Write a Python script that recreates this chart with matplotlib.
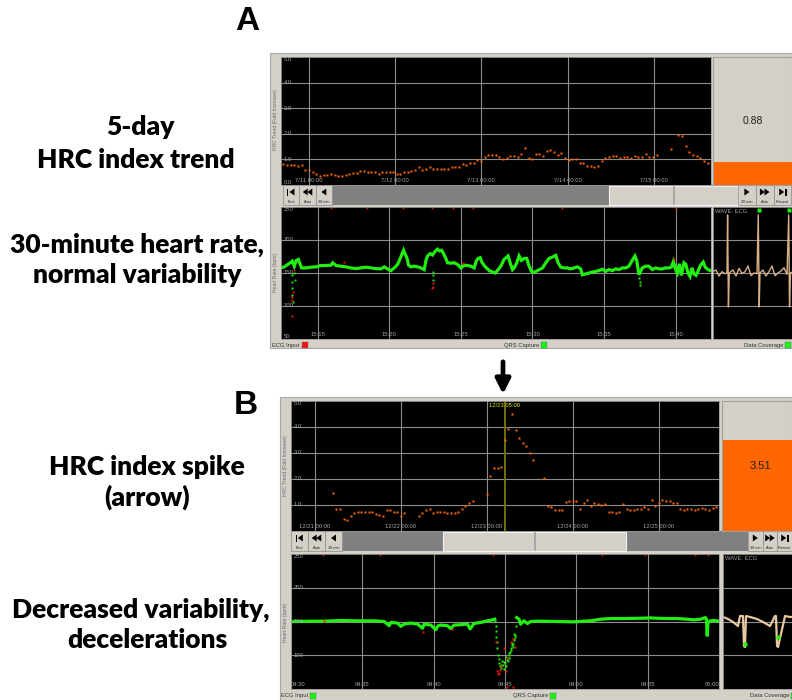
import numpy as np
import pandas as pd
import matplotlib
matplotlib.use('Agg')
import matplotlib.pyplot as plt
import matplotlib.dates as mdates
import matplotlib.transforms as mtransforms
from matplotlib.patches import Rectangle, Polygon

plt.rcParams['font.family'] = ['Liberation Sans', 'DejaVu Sans']

# ======================= DATA =======================
# --- Panel A: 5-day HRC index trend (fold increase) ---
trendA_start = '2009-07-10 17:00'
trendA_step = '61min'
trendA_values = [
    0.83, 0.77, 0.77, 0.77, 0.75, 0.79, 0.60, 0.58, 0.51, 0.42,
    0.35, 0.39, 0.40, 0.43, 0.39, 0.35, 0.36, 0.39, 0.43, 0.48,
    0.47, 0.53, 0.53, 0.51, 0.49, 0.49, 0.44, 0.52, 0.51, 0.52,
    0.49, 0.44, 0.44, 0.49, 0.51, 0.53, 0.60, 0.71, 0.58, 0.61,
    0.69, 0.64, 0.64, 0.64, 0.64, 0.64, 0.69, 0.69, 0.69, 0.81,
    0.77, 0.84, 0.86, 0.96, 0.92, 1.08, 1.18, 1.18, 1.18, 1.09,
    1.00, 1.06, 1.13, 1.13, 1.08, 1.21, 1.43, 1.05, 1.00, 1.22,
    1.21, 1.13, 1.34, 1.35, 1.30, 1.16, 1.26, 1.04, 0.99, 1.01,
    1.03, 0.84, 0.84, 0.74, 0.73, 0.71, 0.74, 0.94, 1.04, 1.08,
    1.12, 1.12, 1.05, 1.08, 1.08, 1.06, 1.13, 1.10, 1.10, 1.23,
    1.10, 1.10, 1.16, np.nan, np.nan, np.nan, 1.42, np.nan, 1.97, 1.90,
    1.52, 1.29, 1.19, 1.13, 1.06, 0.94, 0.87]
trendA_current = 0.88
trendA_day_ticks = ['2009-07-11', '2009-07-12', '2009-07-13', '2009-07-14', '2009-07-15']
trendA_day_labels = ['7/11 00:00', '7/12 00:00', '7/13 00:00', '7/14 00:00', '7/15 00:00']

# --- Panel B: HRC index trend with spike ---
trendB_start = '2009-12-21 05:00'
trendB_step = '60min'
trendB_values = [
    1.45, 0.85, 0.85, 0.45, 0.44, 0.57, 0.71, 0.73, 0.73, 0.75,
    0.75, 0.75, 0.64, 0.62, 0.59, 0.82, 0.82, 0.73, 0.73, 0.59,
    0.68, np.nan, np.nan, np.nan, 0.57, 0.71, 0.81, 0.85, 0.71, 0.73,
    0.73, 0.73, 0.68, 0.68, 0.71, 0.72, 0.86, 0.97, 1.06, 1.15,
    np.nan, np.nan, np.nan, 1.43, 2.11, 2.42, 2.43, 2.47, 3.51, 3.94,
    4.50, 3.90, 3.58, 3.40, 3.27, 3.00, 2.73, np.nan, np.nan, 2.05,
    0.95, 0.93, 0.80, 0.80, 0.79, 1.11, 1.15, 1.17, 1.15, 0.84,
    1.07, 1.18, 0.95, 1.07, 1.03, 0.99, 1.02, 0.75, 0.75, 0.69,
    0.75, 1.02, 0.84, 0.82, 0.82, 0.85, 0.85, 0.94, 0.85, 1.18,
    0.98, 1.08, 1.21, 1.15, 1.15, 1.07, 1.07, 0.86, 0.82, 0.84,
    0.84, 0.82, 0.84, 0.90, 0.86, 0.82, 0.88, 0.91]
trendB_current = 3.51
trendB_cursor = '2009-12-23 05:00'
trendB_cursor_label = '12/23 05:00'
trendB_day_ticks = ['2009-12-21', '2009-12-22', '2009-12-23', '2009-12-24', '2009-12-25']
trendB_day_labels = ['12/21 00:00', '12/22 00:00', '12/23 00:00', '12/24 00:00', '12/25 00:00']

trend_y_ticks = [0, 1, 2, 3, 4, 5]
trend_y_labels = ['0.0', '1.0', '2.0', '3.0', '4.0', '5.0']
hr_y_ticks = [50, 100, 150, 200, 250]
hr_y_labels = ['50', '100', '150', '200', '250']

# --- Panel A: 30-minute heart rate (minutes after 15:00, bpm) ---
hrA_min = [12.44, 12.67, 12.91, 13.09, 13.23, 13.37, 13.51, 13.65, 13.79, 13.88,
           14.19, 14.54, 14.88, 15.23, 15.58, 15.93, 16.05, 16.28, 16.63, 16.98,
           17.33, 17.67, 18.02, 18.37, 18.72, 19.07, 19.42, 19.65, 19.88, 20.12,
           20.35, 20.58, 20.81, 21.00, 21.12, 21.23, 21.35, 21.51, 21.74, 21.98,
           22.21, 22.44, 22.58, 22.67, 22.86, 23.02, 23.19, 23.37, 23.51, 23.65,
           23.79, 23.93, 24.07, 24.30, 24.54, 24.77, 25.00, 25.23, 25.47, 25.70,
           25.93, 26.07, 26.21, 26.35, 26.49, 26.67, 26.98, 27.21, 27.40, 27.61,
           27.79, 28.02, 28.30, 28.44, 28.61, 28.72, 28.91, 29.07, 29.23, 29.42,
           29.60, 29.77, 29.93, 30.12, 30.35, 30.70, 30.93, 31.16, 31.40, 31.63,
           31.79, 31.98, 32.21, 32.44, 32.67, 32.91, 33.14, 33.37, 33.49, 33.72,
           33.95, 34.19, 34.42, 34.65, 34.88, 35.12, 35.35, 35.58, 35.81, 36.05,
           36.28, 36.51, 36.74, 36.91, 37.05, 37.16, 37.28, 37.44, 37.56, 37.67,
           37.91, 38.14, 38.37, 38.61, 38.84, 39.07, 39.30, 39.54, 39.70, 39.84,
           40.00, 40.12, 40.26, 40.40, 40.58, 40.72, 40.86, 41.00, 41.14, 41.28,
           41.42, 41.56, 41.74, 41.93, 42.07, 42.26, 42.44]
hrA_bpm = [157.7, 159.3, 162.9, 165.5, 168.0, 160.3, 169.1, 170.6, 162.9, 157.7,
           157.7, 158.8, 159.3, 161.3, 161.3, 161.8, 165.5, 161.3, 160.3, 159.3,
           157.7, 156.7, 157.7, 158.8, 157.7, 156.7, 156.2, 159.3, 156.2, 153.6,
           157.7, 162.9, 174.2, 184.5, 178.3, 173.2, 161.8, 159.3, 160.3, 159.3,
           157.7, 155.2, 170.6, 175.8, 179.4, 177.3, 182.4, 186.1, 183.5, 184.5,
           179.4, 173.2, 165.5, 164.9, 165.5, 162.9, 157.7, 161.8, 161.3, 160.3,
           157.7, 168.0, 172.1, 173.2, 165.5, 160.3, 153.6, 151.5, 150.0, 155.2,
           160.3, 170.6, 175.8, 165.5, 155.2, 157.7, 165.5, 175.8, 169.1, 172.1,
           172.1, 160.3, 152.6, 151.0, 153.6, 157.7, 165.5, 172.1, 174.2, 176.8,
           165.5, 158.8, 157.7, 157.7, 156.2, 157.7, 159.3, 156.2, 147.4, 148.5,
           150.0, 151.5, 152.6, 153.6, 155.7, 152.6, 155.2, 153.6, 156.2, 155.2,
           157.7, 157.7, 160.3, 167.0, 172.1, 175.8, 169.1, 147.4, 152.6, 157.7,
           160.3, 160.3, 155.2, 157.7, 156.2, 156.2, 157.7, 157.7, 158.8, 167.0,
           155.2, 150.0, 163.9, 146.4, 165.5, 162.9, 150.0, 144.9, 157.7, 148.5,
           146.4, 152.6, 161.8, 166.5, 158.8, 155.2, 153.6]
hrA_art_green_min = [13.21, 13.21, 13.23, 13.21, 13.26, 13.35, 13.40, 23.05, 23.05, 23.07, 37.47, 37.49, 37.51]
hrA_art_green_bpm = [147.4, 137.1, 126.8, 116.5, 106.2, 150.0, 140.0, 147.4, 139.7, 152.0, 142.3, 137.1, 132.0]
hrA_art_red_min = [13.26, 13.23, 13.21, 13.19, 13.37, 23.07, 23.05, 23.02, 16.86, 25.12, 39.88]
hrA_art_red_bpm = [121.7, 114.0, 108.8, 85.6, 155.0, 134.5, 129.4, 126.8, 166.5, 165.5, 170.6]
hrA_flag_min = [15.91, 18.42, 20.93, 22.96, 24.42, 25.82, 32.03, 40.05]
hrA_ticks = [15, 20, 25, 30, 35, 40]
hrA_tick_labels = ['15:15', '15:20', '15:25', '15:30', '15:35', '15:40']

# --- Panel B: heart rate (minutes after 04:30, bpm) ---
hrB_min = [0.00, 0.70, 1.40, 2.33, 3.50, 4.67, 5.83, 6.53, 6.88, 7.00,
           7.47, 7.70, 7.93, 8.40, 8.87, 9.22, 9.33, 9.80, 10.15, 10.30,
           10.50, 10.97, 11.20, 11.43, 11.90, 12.37, 12.55, 12.83, 13.30, 13.77,
           14.12, 14.28, 14.30, 15.82, 15.98, 16.10, 16.33, 16.57, 16.80, 17.50,
           18.67, 19.83, 20.53, 21.00, 21.70, 22.40, 23.33, 24.50, 25.20, 25.67,
           26.37, 27.07, 27.77, 28.23, 28.70, 29.05, 29.12, 29.17, 29.23, 29.40,
           29.63, 30.00]
hrB_bpm = [150.0, 150.0, 150.5, 150.5, 151.5, 151.0, 151.0, 150.0, 143.8, 148.6,
           147.6, 142.8, 146.2, 147.6, 146.2, 140.0, 146.2, 144.7, 138.0, 143.5,
           144.7, 143.8, 139.5, 144.7, 145.2, 146.2, 139.0, 147.1, 148.6, 151.0,
           152.4, 153.4, np.nan, 155.8, 153.4, 146.0, 151.0, 147.0, 150.0, 150.5,
           150.0, 149.5, 150.5, 151.0, 153.4, 154.4, 154.4, 154.8, 155.3, 154.8,
           154.4, 154.4, 153.4, 152.4, 153.4, 155.8, 153.4, 129.3, 148.6, 151.0,
           151.5, 150.5]
hrB_dip_green_min = [14.33, 14.35, 14.37, 14.40, 14.42, 14.47, 14.51, 14.55, 14.58, 14.65,
                     14.70, 14.75, 14.80, 14.84, 14.90, 14.93, 15.00, 15.05, 15.10, 15.12,
                     15.21, 15.25, 15.28, 15.30, 15.35, 15.40, 15.45, 15.47, 15.50, 15.54,
                     15.59, 15.60, 15.63, 15.65, 15.68, 15.73, 15.77]
hrB_dip_green_bpm = [151.0, 143.8, 136.6, 126.9, 119.7, 110.1, 100.5, 95.0, 88.5, 83.6,
                     86.0, 81.2, 92.0, 86.1, 80.0, 89.9, 88.0, 83.6, 98.0, 93.3,
                     90.9, 104.0, 100.5, 96.0, 105.3, 110.1, 108.0, 114.9, 118.0, 112.5,
                     117.3, 124.0, 122.1, 132.0, 126.9, 129.3, 143.8]
hrB_dip_red_min = [14.37, 14.47, 14.51, 14.58, 14.65, 14.75, 14.93, 15.05, 15.17, 15.45,
                   15.54, 15.68, 15.17, 15.59, 2.33, 9.22, 11.32]
hrB_dip_red_bpm = [119.7, 76.4, 71.6, 74.0, 78.8, 83.6, 110.1, 76.4, 95.7, 119.7,
                   124.5, 112.5, 52.4, 52.4, 151.0, 134.0, 139.0]
hrB_flag_min = [2.24, 6.24, 14.16, 21.8, 24.8, 28.3, 29.2]
hrB_ticks = [0, 5, 10, 15, 20, 25, 30]
hrB_tick_labels = ['04:30', '04:35', '04:40', '04:45', '04:50', '04:55', '05:00']

# --- ECG snippets (seconds, display units on the heart-rate grid) ---
ecgA_sec = [0.000, 0.039, 0.079, 0.118, 0.158, 0.184, 0.192, 0.203, 0.214, 0.263,
            0.303, 0.342, 0.382, 0.421, 0.461, 0.500, 0.539, 0.579, 0.596, 0.608,
            0.618, 0.658, 0.697, 0.737, 0.776, 0.816, 0.855, 0.895, 0.934, 0.974,
            0.996, 1.007, 1.020, 1.066, 1.120]
ecgA_val = [152, 154.5, 145.5, 152, 149, 150, 238, 98.5, 150, 154.5,
            145.5, 157, 149, 152, 160.6, 146, 150, 149, 238, 98.5,
            150, 154.5, 145.5, 152, 160.6, 146, 150, 153, 158, 148,
            238, 98.5, 150, 153, 149]
ecgA_qrs_sec = [0.600, 0.998]
ecgB_sec = [0.000, 0.066, 0.132, 0.197, 0.224, 0.263, 0.276, 0.289, 0.303, 0.355,
            0.447, 0.526, 0.618, 0.684, 0.697, 0.711, 0.724, 0.816, 0.882, 0.961]
ecgB_val = [156.7, 153.7, 149.3, 143.3, 158.1, 158.1, 113.7, 112.2, 158.1, 156.7,
            153.7, 149.3, 143.3, 158.1, 158.1, 113.7, 112.2, 158.1, 156.7, 156.7]
ecgB_qrs_sec = [0.283, 0.722]
ecgB_qrs_val = [116, 127]

# ======================= LAYOUT =======================
W, H = 792, 700
fig = plt.figure(figsize=(W / 100, H / 100), dpi=100)
fig.patch.set_facecolor('white')

def rect(x0, y0, x1, y1):
    return [x0 / W, 1 - y1 / H, (x1 - x0) / W, (y1 - y0) / H]

bg = fig.add_axes([0, 0, 1, 1])
bg.set_xlim(0, W)
bg.set_ylim(H, 0)
bg.axis('off')

FRAME = '#d4d0c8'
GRID = '#8c8c8c'
LBL = '#a4a4a4'
ORANGE = '#ff6600'
GREEN = '#22ee11'

# frames
bg.add_patch(Rectangle((270, 53), 530, 295, fc=FRAME, ec='#a8a8a8', lw=0.8))
bg.add_patch(Rectangle((280, 397), 520, 310, fc=FRAME, ec='#a8a8a8', lw=0.8))

# big panel letters
bg.text(247, 22, 'A', fontsize=24, fontweight='bold', ha='center', va='center',
        family=['Liberation Sans Narrow', 'Liberation Sans'])
bg.text(246, 406, 'B', fontsize=24, fontweight='bold', ha='center', va='center',
        family=['Liberation Sans Narrow', 'Liberation Sans'])

# descriptive texts
desc = [('5-day', 140, 127), ('HRC index trend', 136, 160),
        ('30-minute heart rate,', 137, 245), ('normal variability', 137, 275),
        ('HRC index spike', 147, 467), ('(arrow)', 147, 497),
        ('Decreased variability,', 141, 610), ('decelerations', 147, 640)]
for s, x, y in desc:
    bg.text(x, y, s, fontsize=19, fontweight='heavy', ha='center', va='center',
            family=['Lato', 'DejaVu Sans'])

# arrow
bg.annotate('', xy=(503, 397), xytext=(503, 359),
            arrowprops=dict(arrowstyle='-|>', lw=3.4, color='black', mutation_scale=22))

# rotated axis labels
for x, y, s in [(276, 120, 'HRC Trend (Fold Increase)'), (276, 272, 'Heart Rate (bpm)'),
                (285, 466, 'HRC Trend (Fold Increase)'), (285, 622, 'Heart Rate (bpm)')]:
    bg.text(x, y, s, rotation=90, fontsize=3.6, color='#6a6a6a', ha='center', va='center')


def tri(cx, cy, direction, w=5.0, h=7.0):
    if direction == 'left':
        pts = [(cx + w / 2, cy - h / 2), (cx + w / 2, cy + h / 2), (cx - w / 2, cy)]
    else:
        pts = [(cx - w / 2, cy - h / 2), (cx - w / 2, cy + h / 2), (cx + w / 2, cy)]
    bg.add_patch(Polygon(pts, closed=True, fc='black', ec='none'))


def button(x0, y0, x1, y1, kind, label):
    bg.add_patch(Rectangle((x0, y0), x1 - x0, y1 - y0, fc=FRAME, ec='#8a8a8a', lw=0.5))
    cx = (x0 + x1) / 2
    cy = y0 + 7
    if kind == 'first':
        bg.add_patch(Rectangle((cx - 4, cy - 3.5), 1.3, 7, fc='black', ec='none'))
        tri(cx + 0.8, cy, 'left')
    elif kind == 'rew':
        tri(cx - 2.3, cy, 'left'); tri(cx + 2.3, cy, 'left')
    elif kind == 'back':
        tri(cx, cy, 'left')
    elif kind == 'fwd':
        tri(cx, cy, 'right')
    elif kind == 'ffwd':
        tri(cx - 2.3, cy, 'right'); tri(cx + 2.3, cy, 'right')
    elif kind == 'last':
        tri(cx - 0.8, cy, 'right')
        bg.add_patch(Rectangle((cx + 2.7, cy - 3.5), 1.3, 7, fc='black', ec='none'))
    bg.text(cx, y1 - 1.2, label, fontsize=2.8, ha='center', va='bottom', color='#202020')


def scrollbar(y0, y1, left_end, thumb0, thumb1, right_start):
    bg.add_patch(Rectangle((left_end, y0), right_start - left_end, y1 - y0, fc='#808080', ec='none'))
    bg.add_patch(Rectangle((thumb0, y0 + 0.5), thumb1 - thumb0, y1 - y0 - 1, fc=FRAME,
                           ec='#f4f4f4', lw=0.8))
    mid = (thumb0 + thumb1) / 2
    bg.plot([mid, mid], [y0 + 1, y1 - 1], color='#a0a0a0', lw=1.2)


def button_row(y0, y1, lx, left_end, thumb0, thumb1, right_start, bw2):
    scrollbar(y0, y1, left_end, thumb0, thumb1, right_start)
    bw = (left_end - lx) / 3
    for i, (k, l) in enumerate([('first', 'First'), ('rew', 'Auto'), ('back', '30 min')]):
        button(lx + i * bw, y0, lx + (i + 1) * bw, y1, k, l)
    for i, (k, l) in enumerate([('fwd', '30 min'), ('ffwd', 'Auto'), ('last', 'Present')]):
        button(right_start + i * bw2, y0, right_start + (i + 1) * bw2, y1, k, l)


button_row(185, 205, 283, 332, 609, 738, 738, 17.8)
button_row(531, 551, 291, 342, 443, 626, 748, 14.6)


def status(y, items):
    for text, tx, sq, col in items:
        bg.text(tx, y, text, fontsize=4.2, ha='right', va='center', color='#303030')
        bg.add_patch(Rectangle((sq, y - 3.5), 6, 6.5, fc=col, ec='#606060', lw=0.3))

status(345, [('ECG Input', 299, 302, '#ff1010'), ('QRS Capture', 539, 541, '#10ff10'),
             ('Data Coverage', 783, 785, '#10ff10')])
status(696, [('ECG Input', 308, 310, '#10ff10'), ('QRS Capture', 548, 550, '#10ff10'),
             ('Data Coverage', 789, 791, '#10ff10')])


def black_axes(px, xlim, ylim, gx, gy):
    ax = fig.add_axes(rect(*px))
    ax.set_facecolor('black')
    ax.set_xlim(*xlim)
    ax.set_ylim(*ylim)
    for s in ax.spines.values():
        s.set_color('#9a9a9a')
        s.set_linewidth(0.6)
    ax.set_xticks(gx)
    ax.set_yticks(gy)
    ax.grid(True, color=GRID, lw=0.8)
    ax.tick_params(length=0, labelbottom=False, labelleft=False)
    return ax


def inner_labels(ax, xt, xl, yt, yl, edge_align=False):
    tx = mtransforms.blended_transform_factory(ax.transData, ax.transAxes)
    x0, x1 = ax.get_xlim()
    for x, lab in zip(xt, xl):
        ha = 'center'
        if edge_align and x == x0:
            ha = 'left'
        elif edge_align and x == x1:
            ha = 'right'
        ax.text(x, 0.012, lab, transform=tx, ha=ha, va='bottom', fontsize=4.2, color=LBL)
    ty = mtransforms.blended_transform_factory(ax.transAxes, ax.transData)
    y0, y1 = ax.get_ylim()
    for y, lab in zip(yt, yl):
        va = 'top' if y == y1 else ('bottom' if y == y0 else 'center')
        ax.text(0.006, y, lab, transform=ty, ha='left', va=va, fontsize=4.2, color=LBL)


# ---------------- Panel A trend ----------------
tA = pd.date_range(trendA_start, periods=len(trendA_values), freq=trendA_step)
dA = [mdates.date2num(pd.Timestamp(d)) for d in trendA_day_ticks]
axTA = black_axes((281, 57, 711, 185), (dA[0] - 0.32, dA[0] + 4.66), (0, 5), dA, [1, 2, 3, 4])
axTA.plot(mdates.date2num(tA), trendA_values, 's', ms=2.0, color=ORANGE, mec='none')
inner_labels(axTA, dA, trendA_day_labels, trend_y_ticks, trend_y_labels)

boxA = fig.add_axes(rect(713, 57, 792, 185))
boxA.set_facecolor(FRAME)
boxA.set_xlim(0, 1); boxA.set_ylim(0, 5)
boxA.bar(0.5, trendA_current, width=1.0, color=ORANGE)
boxA.set_xticks([]); boxA.set_yticks([])
for s in boxA.spines.values():
    s.set_color('#a0a0a0'); s.set_linewidth(0.8)
boxA.text(0.5, 0.5, f'{trendA_current:.2f}', transform=boxA.transAxes, ha='center', va='center',
          fontsize=7.5, color='#202020')

# ---------------- Panel A heart rate ----------------
axHA = black_axes((281, 207, 711, 339), (12.44, 42.47), (50, 250), hrA_ticks, [100, 150, 200])
axHA.plot(hrA_min, hrA_bpm, color=GREEN, lw=2.3, solid_joinstyle='miter')
axHA.plot(hrA_art_green_min, hrA_art_green_bpm, 's', ms=1.4, color=GREEN, mec='none')
axHA.plot(hrA_art_red_min, hrA_art_red_bpm, 's', ms=1.4, color='#ee1010', mec='none')
axHA.plot(hrA_flag_min, [249] * len(hrA_flag_min), 's', ms=1.2, color='#ee1010', mec='none', clip_on=False)
inner_labels(axHA, hrA_ticks, hrA_tick_labels, hr_y_ticks, hr_y_labels)

ecgAx = black_axes((713, 207, 800, 339), (0, 1.145), (50, 250), [], [100, 150, 200])
ecgAx.plot(ecgA_sec, ecgA_val, color='#d8b088', lw=1.0)
ecgAx.plot(ecgA_qrs_sec, [246] * len(ecgA_qrs_sec), 's', ms=2.2, color=GREEN, mec='none')
ecgAx.text(0.02, 0.985, 'WAVE: ECG', transform=ecgAx.transAxes, ha='left', va='top',
           fontsize=4.2, color=LBL)

# ---------------- Panel B trend ----------------
tB = pd.date_range(trendB_start, periods=len(trendB_values), freq=trendB_step)
dB = [mdates.date2num(pd.Timestamp(d)) for d in trendB_day_ticks]
axTB = black_axes((291, 401, 719, 531), (dB[0] - 0.278, dB[0] + 4.70), (0, 5), dB, [1, 2, 3, 4])
cur = mdates.date2num(pd.Timestamp(trendB_cursor))
axTB.axvline(cur, color='#7a7a00', lw=1.3)
axTB.plot(mdates.date2num(tB), trendB_values, 's', ms=2.0, color=ORANGE, mec='none')
inner_labels(axTB, dB, trendB_day_labels, trend_y_ticks[1:], trend_y_labels[1:])
axTB.text(cur, 0.985, trendB_cursor_label,
          transform=mtransforms.blended_transform_factory(axTB.transData, axTB.transAxes),
          ha='center', va='top', fontsize=4.2, color='#e8e800')

boxB = fig.add_axes(rect(722, 401, 792, 531))
boxB.set_facecolor(FRAME)
boxB.set_xlim(0, 1); boxB.set_ylim(0, 5)
boxB.bar(0.5, trendB_current, width=1.0, color=ORANGE)
boxB.set_xticks([]); boxB.set_yticks([])
for s in boxB.spines.values():
    s.set_color('#a0a0a0'); s.set_linewidth(0.8)
boxB.text(0.55, 0.5, f'{trendB_current:.2f}', transform=boxB.transAxes, ha='center', va='center',
          fontsize=8, color='#202020')

# ---------------- Panel B heart rate ----------------
axHB = black_axes((291, 554, 719, 689), (0, 30), (50, 250), hrB_ticks, [100, 150, 200])
axHB.plot(hrB_min, hrB_bpm, color=GREEN, lw=2.3)
axHB.plot(hrB_dip_green_min, hrB_dip_green_bpm, 's', ms=1.6, color=GREEN, mec='none')
axHB.plot(hrB_dip_red_min, hrB_dip_red_bpm, 's', ms=1.6, color='#ee1010', mec='none')
axHB.plot(hrB_flag_min, [249] * len(hrB_flag_min), 's', ms=1.2, color='#ee1010', mec='none', clip_on=False)
inner_labels(axHB, hrB_ticks, hrB_tick_labels, hr_y_ticks[1:], hr_y_labels[1:], edge_align=True)

ecgBx = black_axes((723, 554, 800, 689), (0, 1.013), (50, 250), [], [100, 150, 200])
ecgBx.plot(ecgB_sec, ecgB_val, color='#e8c8a0', lw=1.6)
ecgBx.plot(ecgB_qrs_sec, ecgB_qrs_val, 's', ms=3.0, color=GREEN, mec='none')
ecgBx.text(0.02, 0.985, 'WAVE: ECG', transform=ecgBx.transAxes, ha='left', va='top',
           fontsize=4.2, color=LBL)

fig.savefig('out.png', dpi=100)
